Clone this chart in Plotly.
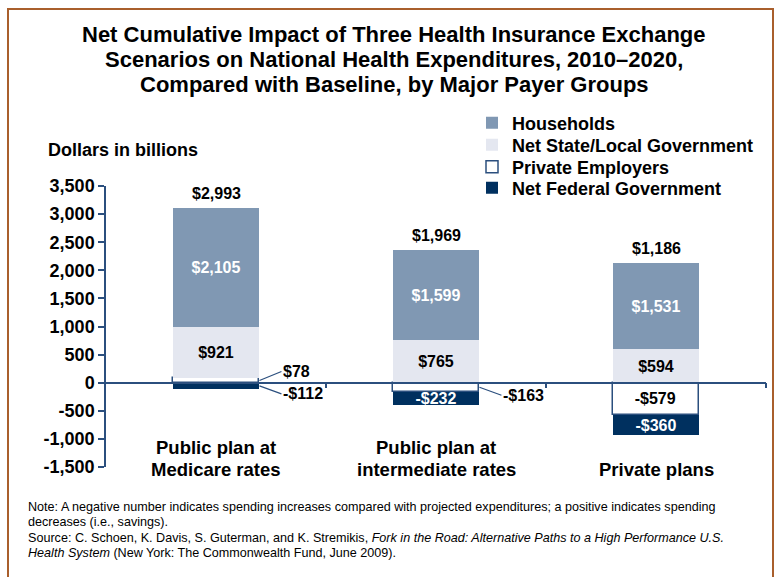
import plotly.graph_objects as go

categories = ["Public plan at<br>Medicare rates", "Public plan at<br>intermediate rates", "Private plans"]
households = [2105, 1599, 1531]
state_local = [921, 765, 594]
private_employers = [78, -163, -579]
federal = [-112, -232, -360]
totals = [2993, 1969, 1186]
y_ticks = [-1500, -1000, -500, 0, 500, 1000, 1500, 2000, 2500, 3000, 3500]
y_tick_labels = [f"{v:,}" for v in y_ticks]

title_lines = ["Net Cumulative Impact of Three Health Insurance Exchange",
               "Scenarios on National Health Expenditures, 2010–2020,",
               "Compared with Baseline, by Major Payer Groups"]
note_lines = ["Note: A negative number indicates spending increases compared with projected expenditures; a positive indicates spending",
              "decreases (i.e., savings).",
              "Source: C. Schoen, K. Davis, S. Guterman, and K. Stremikis, <i>Fork in the Road: Alternative Paths to a High Performance U.S.</i>",
              "<i>Health System</i> (New York: The Commonwealth Fund, June 2009)."]

NAVY = "#00305f"
AXIS = "#2b4f7e"
HH = "#8098b3"
SL = "#e4e7f0"
FONT = "Liberation Sans, Arial, sans-serif"

W, H = 776, 577
L, R, T, B = 106, 10, 186, 110
pw, ph = W - L - R, H - T - B


def px(xp):
    return (xp - L) / pw


def py(yp):
    return 1 - (yp - T) / ph


x_idx = list(range(len(categories)))
BW = 0.395


def money(v):
    return ("-$" if v < 0 else "$") + f"{abs(v):,}"


fig = go.Figure()
lab_font = dict(size=16, family=FONT, weight="bold")

pe_text = [money(v) if abs(v) > 300 else "" for v in private_employers]
fig.add_trace(go.Bar(x=x_idx, y=private_employers, name="Private Employers", width=BW,
                     marker=dict(color="white", line=dict(color=AXIS, width=1.5)),
                     text=pe_text, textposition="inside", insidetextanchor="middle", constraintext="none",
                     textfont=dict(color="black", **lab_font), legend="legend3", hoverinfo="skip"))
fig.add_trace(go.Bar(x=x_idx, y=state_local, name="Net State/Local Government", width=BW,
                     marker=dict(color=SL, line=dict(width=0)),
                     text=[money(v) for v in state_local], textposition="inside", insidetextanchor="middle",
                     constraintext="none",
                     textfont=dict(color="black", **lab_font), legend="legend2", hoverinfo="skip"))
fig.add_trace(go.Bar(x=x_idx, y=households, name="Households", width=BW,
                     marker=dict(color=HH, line=dict(width=0)),
                     text=[money(v) for v in households], textposition="inside", insidetextanchor="middle",
                     constraintext="none",
                     textfont=dict(color="white", **lab_font), legend="legend", hoverinfo="skip"))
fed_text = [money(v) if abs(v) > 200 else "" for v in federal]
fig.add_trace(go.Bar(x=x_idx, y=federal, name="Net Federal Government", width=BW,
                     marker=dict(color=NAVY, line=dict(width=0)),
                     text=fed_text, textposition="inside", insidetextanchor="middle", constraintext="none",
                     textfont=dict(color="white", **lab_font), legend="legend4", hoverinfo="skip"))

annotations = []
# totals above bars
for i in x_idx:
    top = sum(v for v in (households[i], state_local[i], private_employers[i], federal[i]) if v > 0)
    annotations.append(dict(x=i, y=top, yref="y", xref="x", text="<b>" + money(totals[i]) + "</b>",
                            showarrow=False, yanchor="bottom", yshift=4,
                            font=dict(size=16, color="black", family=FONT)))
# category labels (bottom aligned, one annotation per line)
for i in x_idx:
    lines = categories[i].split("<br>")
    for k, line in enumerate(reversed(lines)):
        annotations.append(dict(x=i, y=py(469 - 22 * k), xref="x", yref="paper", text="<b>" + line + "</b>",
                                showarrow=False, yanchor="middle",
                                font=dict(size=18.5, color="black", family=FONT)))
# leader-line labels for small segments
for i in x_idx:
    pe = private_employers[i]
    if abs(pe) <= 300:
        annotations.append(dict(x=i + BW / 2, y=pe / 2, xref="x", yref="y", text="<b>" + money(pe) + "</b>",
                                showarrow=True, arrowhead=0, arrowwidth=1.2, arrowcolor=AXIS,
                                ax=22, ay=-9 if pe > 0 else 8, xanchor="left",
                                font=dict(size=16, color="black", family=FONT)))
    fd = federal[i]
    if abs(fd) <= 200:
        base = min(pe, 0)
        annotations.append(dict(x=i + BW / 2, y=base + fd / 2, xref="x", yref="y", text="<b>" + money(fd) + "</b>",
                                showarrow=True, arrowhead=0, arrowwidth=1.2, arrowcolor=AXIS,
                                ax=22, ay=8, xanchor="left",
                                font=dict(size=16, color="black", family=FONT)))

annotations.append(dict(x=px(46), y=py(150), xref="paper", yref="paper", text="<b>Dollars in billions</b>",
                        showarrow=False, xanchor="left", yanchor="middle",
                        font=dict(size=18, color="black", family=FONT)))

for k, line in enumerate(note_lines):
    annotations.append(dict(x=px(26), y=py(507 + 15.4 * k), xref="paper", yref="paper", text=line,
                            showarrow=False, xanchor="left", yanchor="middle", align="left",
                            font=dict(size=12.6, color="black", family=FONT)))

for k, (line, yy) in enumerate(zip(title_lines, [34, 59, 85])):
    annotations.append(dict(x=px(394), y=py(yy), xref="paper", yref="paper", text="<b>" + line + "</b>",
                            showarrow=False, xanchor="center", yanchor="middle",
                            font=dict(size=22, color="black", family=FONT)))

leg_common = dict(xanchor="left", yanchor="middle", bgcolor="rgba(0,0,0,0)", itemclick=False,
                  font=dict(size=18, color="black", family=FONT, weight="bold"))
legend_y = [123, 145, 167, 188]

fig.update_layout(
    width=W, height=H,
    margin=dict(l=L, r=R, t=T, b=B),
    paper_bgcolor="white", plot_bgcolor="white",
    barmode="relative",
    showlegend=True,
    legend=dict(x=px(472), y=py(legend_y[0]), **leg_common),
    legend2=dict(x=px(472), y=py(legend_y[1]), **leg_common),
    legend3=dict(x=px(472), y=py(legend_y[2]), **leg_common),
    legend4=dict(x=px(472), y=py(legend_y[3]), **leg_common),
    xaxis=dict(range=[-0.5, len(categories) - 0.5], anchor="free",
               position=(0 - y_ticks[0]) / (y_ticks[-1] - y_ticks[0]),
               showline=True, linecolor=AXIS, linewidth=1.5,
               tickmode="array", tickvals=[i + 0.5 for i in x_idx], ticks="outside", ticklen=5,
               tickcolor=AXIS, tickwidth=1.5,
               showticklabels=False, showgrid=False, zeroline=False),
    yaxis=dict(range=[y_ticks[0], y_ticks[-1]], tickmode="array", tickvals=y_ticks, ticktext=y_tick_labels,
               showline=True, linecolor=AXIS, linewidth=1.5, ticks="outside", ticklen=6,
               tickcolor=AXIS, tickwidth=1.5, showgrid=False, zeroline=False,
               tickfont=dict(size=18, color="black", family=FONT, weight="bold")),
    annotations=annotations,
    shapes=[dict(type="rect", xref="paper", yref="paper",
                 x0=px(8), x1=px(773), y0=py(590), y1=py(9),
                 line=dict(color="#a95f2c", width=2), fillcolor="rgba(0,0,0,0)", layer="below")],
    bargap=0,
)

fig.write_html("out.html")
